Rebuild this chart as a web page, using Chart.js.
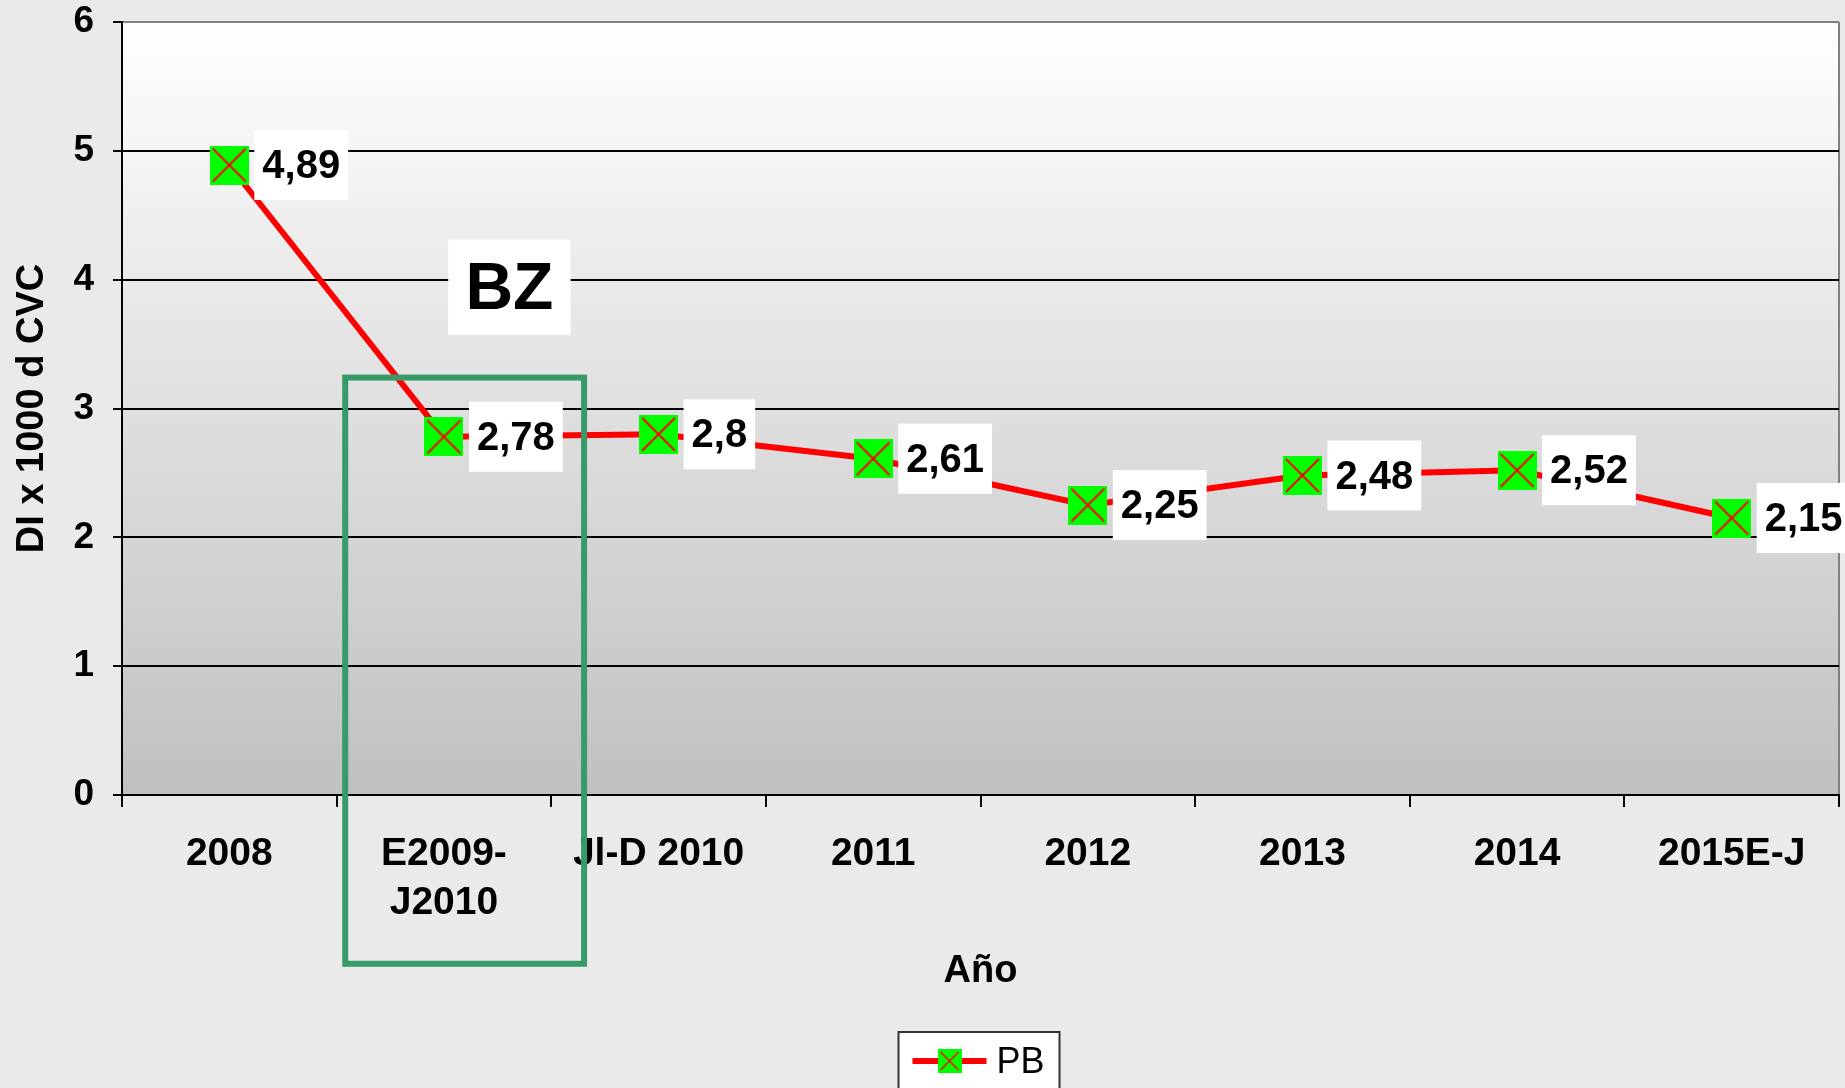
<!DOCTYPE html>
<html lang="es">
<head>
<meta charset="utf-8">
<title>PB - DI x 1000 d CVC</title>
<script src="https://cdn.jsdelivr.net/npm/chart.js@4.4.1/dist/chart.umd.min.js"></script>
<style>
  html, body { margin: 0; padding: 0; background: #eaeaea; overflow: hidden; }
  #wrap { position: relative; width: 1845px; height: 1088px; }
</style>
</head>
<body>
<div id="wrap"><canvas id="diChart"></canvas></div>
<script>
// Datos
const years = ["2008", ["E2009-", "J2010"], "Jl-D 2010", "2011", "2012", "2013", "2014", "2015E-J"];
const pbValues = [4.89, 2.78, 2.8, 2.61, 2.25, 2.48, 2.52, 2.15];
const yMin = 0;
const yMax = 6;
const yStep = 1;

const FONT = "'Liberation Sans', Arial, sans-serif";

// Marcador: cuadrado verde con aspa roja
function makeMarker(size, lw) {
  const c = document.createElement("canvas");
  c.width = size;
  c.height = size;
  const g = c.getContext("2d");
  g.fillStyle = "#00ff00";
  g.fillRect(0, 0, size, size);
  g.strokeStyle = "#ff0000";
  g.lineWidth = lw;
  g.beginPath();
  g.moveTo(3, 3);
  g.lineTo(size - 3, size - 3);
  g.moveTo(size - 3, 3);
  g.lineTo(3, size - 3);
  g.stroke();
  return c;
}

// sin relleno extra de las escalas: el area la fija layout.padding
function noScalePadding(scale) {
  scale.paddingTop = 0;
  scale.paddingBottom = 0;
  scale.paddingLeft = 0;
  scale.paddingRight = 0;
}

// Fondo degradado del area de trazado
const plotBackground = {
  id: "plotBackground",
  beforeDraw(chart) {
    const { ctx, chartArea: a } = chart;
    const grad = ctx.createLinearGradient(0, a.top, 0, a.bottom);
    grad.addColorStop(0, "#ffffff");
    grad.addColorStop(1, "#c0c0c0");
    ctx.save();
    ctx.fillStyle = grad;
    ctx.fillRect(a.left, a.top, a.right - a.left, a.bottom - a.top);
    ctx.strokeStyle = "#808080";
    ctx.lineWidth = 2;
    ctx.beginPath();
    ctx.moveTo(a.right, a.top);
    ctx.lineTo(a.right, a.bottom);
    ctx.stroke();
    ctx.restore();
  },
};

// Etiquetas de valor en cajas blancas
const valueLabels = {
  id: "valueLabels",
  afterDatasetsDraw(chart) {
    const { ctx } = chart;
    const meta = chart.getDatasetMeta(0);
    ctx.save();
    ctx.font = `bold 40px ${FONT}`;
    ctx.textBaseline = "middle";
    meta.data.forEach((pt, i) => {
      const txt = String(pbValues[i]).replace(".", ",");
      const w = ctx.measureText(txt).width + 16;
      const x = pt.x + 25;
      ctx.fillStyle = "#ffffff";
      ctx.fillRect(x, pt.y - 35, w, 70);
      ctx.fillStyle = "#000000";
      ctx.fillText(txt, x + 8, pt.y + 2);
    });
    ctx.restore();
  },
};

// Recuadro verde, caja "BZ" y leyenda
const annotations = {
  id: "annotations",
  afterDraw(chart) {
    const { ctx, chartArea: a } = chart;
    const xs = chart.scales.x;
    const ys = chart.scales.y;
    ctx.save();

    // caja BZ
    const bl = xs.getPixelForValue(1.02);
    const br = xs.getPixelForValue(1.59);
    const bt = ys.getPixelForValue(4.31);
    const bb = ys.getPixelForValue(3.57);
    ctx.fillStyle = "#ffffff";
    ctx.fillRect(bl, bt, br - bl, bb - bt);
    ctx.fillStyle = "#000000";
    ctx.font = `bold 66px ${FONT}`;
    ctx.textAlign = "center";
    ctx.textBaseline = "middle";
    ctx.fillText("BZ", (bl + br) / 2, (bt + bb) / 2 + 3);

    // recuadro verde
    const gl = xs.getPixelForValue(0.54);
    const gr = xs.getPixelForValue(1.653);
    const gt = ys.getPixelForValue(3.24);
    const gb = ys.getPixelForValue(-1.31);
    ctx.strokeStyle = "#379a68";
    ctx.lineWidth = 6;
    ctx.strokeRect(gl, gt, gr - gl, gb - gt);

    // leyenda
    const cx = (a.left + a.right) / 2;
    const lx = cx - 82;
    const ly = chart.height - 56;
    ctx.fillStyle = "#ffffff";
    ctx.fillRect(lx, ly, 161, 70);
    ctx.strokeStyle = "#333333";
    ctx.lineWidth = 2;
    ctx.strokeRect(lx, ly, 161, 70);
    ctx.strokeStyle = "#ff0000";
    ctx.lineWidth = 6;
    ctx.beginPath();
    ctx.moveTo(lx + 14, ly + 29);
    ctx.lineTo(lx + 88, ly + 29);
    ctx.stroke();
    ctx.drawImage(makeMarker(24, 1.5), lx + 39, ly + 17);
    ctx.fillStyle = "#000000";
    ctx.font = `36px ${FONT}`;
    ctx.textAlign = "left";
    ctx.fillText("PB", lx + 98, ly + 31);

    ctx.restore();
  },
};

document.addEventListener("DOMContentLoaded", () => {
  const ctx = document.getElementById("diChart").getContext("2d");

  new Chart(ctx, {
    type: "line",
    data: {
      labels: years,
      datasets: [
        {
          label: "PB",
          data: pbValues,
          borderColor: "#ff0000",
          backgroundColor: "#00ff00",
          borderWidth: 6,
          tension: 0,
          pointStyle: makeMarker(39, 2),
          pointRadius: 19,
          pointHoverRadius: 19,
        },
      ],
    },
    options: {
      responsive: true,
      maintainAspectRatio: false,
      animation: false,
      layout: { autoPadding: false, padding: { top: 22, right: 6, bottom: 0, left: 0 } },
      plugins: {
        legend: { display: false },
        tooltip: { enabled: false },
      },
      scales: {
        x: {
          offset: true,
          grid: {
            offset: true,
            drawOnChartArea: false,
            drawTicks: true,
            tickLength: 12,
            color: "#000000",
            lineWidth: 2,
          },
          border: { color: "#000000", width: 2 },
          ticks: {
            color: "#000000",
            font: { family: FONT, size: 39, weight: "bold", lineHeight: 1.27 },
            padding: 22,
            maxRotation: 0,
            autoSkip: false,
          },
          title: {
            display: true,
            text: "Año",
            color: "#000000",
            font: { family: FONT, size: 38, weight: "bold", lineHeight: 1.2 },
            padding: { top: 0, bottom: 94 },
          },
          afterFit(scale) {
            scale.height = 293;
            noScalePadding(scale);
          },
        },
        y: {
          min: yMin,
          max: yMax,
          ticks: {
            stepSize: yStep,
            color: "#000000",
            font: { family: FONT, size: 37, weight: "bold", lineHeight: 1 },
            padding: 19,
          },
          grid: {
            color: (c) => (c.tick && c.tick.value === yMax ? "#808080" : "#000000"),
            tickColor: "#000000",
            lineWidth: 2,
            tickLength: 9,
          },
          border: { color: "#000000", width: 2 },
          title: {
            display: true,
            text: "DI x 1000 d CVC",
            color: "#000000",
            font: { family: FONT, size: 38, weight: "bold", lineHeight: 1.2 },
            padding: { top: 10, bottom: 0 },
          },
          afterFit(scale) {
            scale.width = 122;
            noScalePadding(scale);
          },
        },
      },
    },
    plugins: [plotBackground, valueLabels, annotations],
  });
});
</script>
</body>
</html>
